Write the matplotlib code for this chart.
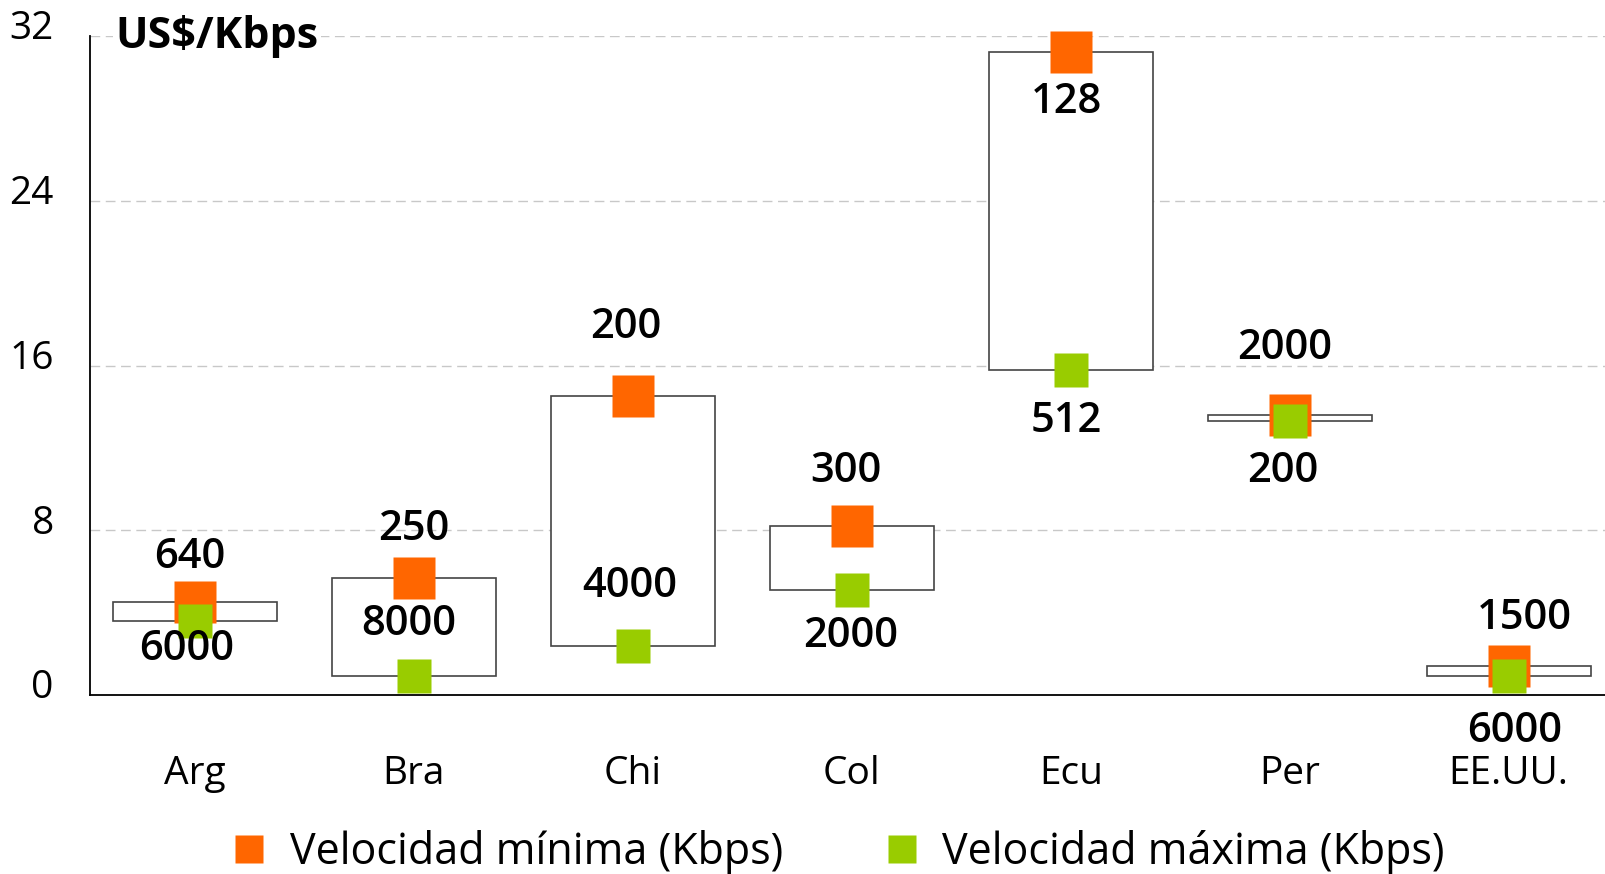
import matplotlib.pyplot as plt
import matplotlib.transforms as mtransforms
from matplotlib.lines import Line2D

plt.rcParams['font.family'] = ['Open Sans', 'DejaVu Sans']

# Price per Kbps by country: cheapest plan speed (orange) vs fastest plan speed (green)
countries = ['Arg', 'Bra', 'Chi', 'Col', 'Ecu', 'Per', 'EE.UU.']
price_min_speed = [4.5, 5.7, 14.5, 8.2, 31.2, 13.6, 1.4]
price_max_speed = [3.6, 0.9, 2.4, 5.1, 15.8, 13.3, 0.9]
min_speed_kbps = ['640', '250', '200', '300', '128', '2000', '1500']
max_speed_kbps = ['6000', '8000', '4000', '2000', '512', '200', '6000']

orange = '#FF6600'
green = '#99CC00'

# label offsets in points (positive = above the marker)
off_min = [33, 35, 50, 40, -36, 48, 35]
off_max = [-20, 38, 43, -33, -37, -36, -39]
dx_min = [-4, 0, -5, -4, -3, -4, 11]
dx_max = [-6, -4, -2, -1, -3, -5, 4]

fig = plt.figure(figsize=(16.05, 8.74), dpi=100)
ax = fig.add_axes([0.056, 0.2048, 0.944, 0.754])

x = list(range(len(countries)))
ax.bar(x, [a - b for a, b in zip(price_min_speed, price_max_speed)],
       bottom=price_max_speed, width=0.75, color='white',
       edgecolor='#444444', linewidth=1.2, zorder=2)

ax.plot(x, price_min_speed, 's', ms=30, color=orange, mec='none', zorder=3, clip_on=False)
ax.plot(x, price_max_speed, 's', ms=25, color=green, mec='none', zorder=4, clip_on=False)

for i in x:
    ax.annotate(min_speed_kbps[i], (i, price_min_speed[i]), xytext=(dx_min[i], off_min[i]),
                textcoords='offset points', ha='center', va='center',
                fontsize=30, fontweight='semibold', zorder=5, annotation_clip=False)
    ax.annotate(max_speed_kbps[i], (i, price_max_speed[i]), xytext=(dx_max[i], off_max[i]),
                textcoords='offset points', ha='center', va='center',
                fontsize=30, fontweight='semibold', zorder=5, annotation_clip=False)

ax.set_xlim(-0.48, 6.44)
ax.set_ylim(0, 32)
ax.set_yticks([0, 8, 16, 24, 32])
ax.set_xticks(x)
ax.set_xticklabels(countries)
ax.tick_params(axis='y', length=0, pad=26, labelsize=28)
ax.tick_params(axis='x', length=0, pad=43, labelsize=28)
# y labels sit a little above their gridlines
shift = mtransforms.ScaledTranslation(0, 8 / 72, fig.dpi_scale_trans)
for lab in ax.get_yticklabels():
    lab.set_horizontalalignment('right')
    lab.set_transform(lab.get_transform() + shift)

ax.grid(axis='y', color='#c8c8c8', linestyle=(0, (7, 4)), linewidth=1, zorder=0)
ax.set_axisbelow(True)
for s in ['top', 'right']:
    ax.spines[s].set_visible(False)
for s in ['left', 'bottom']:
    ax.spines[s].set_linewidth(1.3)
    ax.spines[s].set_color('black')

ax.text(0.017, 32, 'US$/Kbps', transform=ax.get_yaxis_transform(), ha='left', va='center',
        fontsize=31, fontweight='bold', zorder=6,
        bbox=dict(facecolor='white', edgecolor='none', pad=2))

handles = [Line2D([], [], marker='s', ls='none', ms=20, color=orange, mec='none'),
           Line2D([], [], marker='s', ls='none', ms=20, color=green, mec='none')]
fig.legend(handles, ['Velocidad mínima (Kbps)', 'Velocidad máxima (Kbps)'],
           loc='center', bbox_to_anchor=(0.523, 0.025), ncol=2, frameon=False,
           fontsize=31, handlelength=0.7, handletextpad=0.6, columnspacing=2.4,
           borderpad=0.1)

fig.savefig('out.png', dpi=100)
